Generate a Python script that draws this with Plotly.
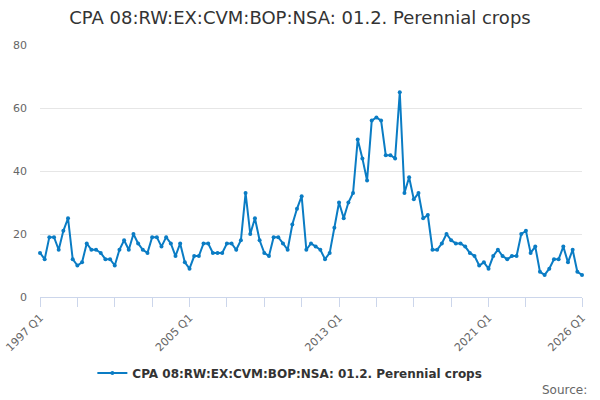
import plotly.graph_objects as go

# quarterly series, 1997 Q1 .. 2026 Q1
years = list(range(1997, 2027))
quarters = [f"{y} Q{q}" for y in years for q in range(1, 5)][:117]

values = [14, 12, 19, 19, 15, 21, 25, 12, 10, 11, 17, 15, 15, 14, 12, 12,
          10, 15, 18, 15, 20, 17, 15, 14, 19, 19, 16, 19, 17, 13, 17, 11,
          9, 13, 13, 17, 17, 14, 14, 14, 17, 17, 15, 18, 33, 20, 25, 18,
          14, 13, 19, 19, 17, 15, 23, 28, 32, 15, 17, 16, 15, 12, 14, 22,
          30, 25, 30, 33, 50, 44, 37, 56, 57, 56, 45, 45, 44, 65, 33, 38,
          31, 33, 25, 26, 15, 15, 17, 20, 18, 17, 17, 16, 14, 13, 10, 11,
          9, 13, 15, 13, 12, 13, 13, 20, 21, 14, 16, 8, 7, 9, 12, 12,
          16, 11, 15, 8, 7]

series_name = "CPA 08:RW:EX:CVM:BOP:NSA: 01.2. Perennial crops"
label_quarters = ["1997 Q1", "2005 Q1", "2013 Q1", "2021 Q1", "2026 Q1"]
y_ticks = [0, 20, 40, 60, 80]

x = list(range(len(values)))

# ticks every 2 years, plus the last quarter
tick_idx = list(range(0, 105, 8)) + [len(values) - 1]
tick_text = [quarters[i] if quarters[i] in label_quarters else "" for i in tick_idx]

fig = go.Figure()
fig.add_trace(go.Scatter(
    x=x, y=values, mode='lines+markers', name=series_name,
    line=dict(color='#0a7cc4', width=2),
    marker=dict(color='#0a7cc4', size=4),
    cliponaxis=False,
    text=quarters, hovertemplate='%{text}: %{y}<extra></extra>'))

fig.update_layout(
    width=600, height=400,
    paper_bgcolor='white', plot_bgcolor='white',
    font=dict(family='DejaVu Sans', color='#666666'),
    title=dict(text=series_name, x=0.5, xanchor='center', y=0.955, yanchor='middle',
               font=dict(size=18, color='#333333')),
    margin=dict(l=40, r=18, t=45, b=103),
    showlegend=True,
    legend=dict(orientation='h', x=0.461, xanchor='center', y=-0.302, yanchor='middle',
                font=dict(size=12, color='#333333', weight='bold')),
    xaxis=dict(range=[0, len(values) - 1], tickmode='array', tickvals=tick_idx,
               ticktext=tick_text, tickangle=-45, ticks='outside', ticklen=9,
               tickcolor='#ccd6eb', showline=True, linecolor='#ccd6eb',
               showgrid=False, zeroline=False, automargin=False,
               tickfont=dict(size=11, color='#666666')),
    yaxis=dict(range=[0, 80], tickvals=y_ticks, showgrid=True, gridcolor='#e6e6e6',
               zeroline=False, showline=False, automargin=False, ticklabelstandoff=12,
               tickfont=dict(size=11, color='#666666')),
    annotations=[dict(text='Source:', xref='paper', yref='paper', x=1, xshift=7,
                      y=-0.369, xanchor='right', yanchor='middle', showarrow=False,
                      font=dict(size=12, color='#666666'))])

# drop the page's default body margin so the chart sits at the window corner
fig.write_html("out.html", config={'displayModeBar': False},
               post_script="document.body.style.margin='0';")
